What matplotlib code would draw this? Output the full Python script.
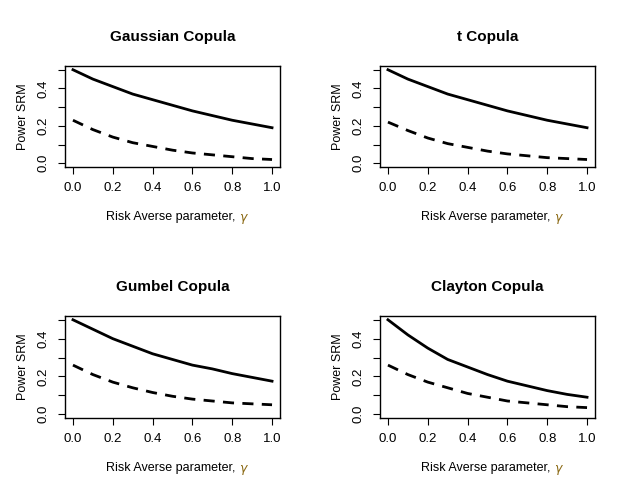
import numpy as np
import matplotlib
matplotlib.use("Agg")
import matplotlib.pyplot as plt

plt.rcParams['font.family'] = ['Liberation Sans', 'DejaVu Sans']

gamma = [0.0, 0.1, 0.2, 0.3, 0.4, 0.5, 0.6, 0.7, 0.8, 0.9, 1.0]
titles = ["Gaussian Copula", "t Copula", "Gumbel Copula", "Clayton Copula"]
solid = [
    [0.50, 0.45, 0.41, 0.37, 0.34, 0.31, 0.28, 0.255, 0.23, 0.21, 0.19],
    [0.50, 0.45, 0.41, 0.37, 0.34, 0.31, 0.28, 0.255, 0.23, 0.21, 0.19],
    [0.50, 0.45, 0.40, 0.36, 0.32, 0.29, 0.26, 0.24, 0.215, 0.195, 0.175],
    [0.50, 0.42, 0.35, 0.29, 0.25, 0.21, 0.175, 0.15, 0.125, 0.105, 0.09],
]
dashed = [
    [0.23, 0.18, 0.14, 0.11, 0.09, 0.07, 0.055, 0.045, 0.035, 0.025, 0.02],
    [0.22, 0.175, 0.135, 0.105, 0.085, 0.065, 0.05, 0.04, 0.03, 0.025, 0.02],
    [0.26, 0.21, 0.17, 0.14, 0.115, 0.095, 0.08, 0.07, 0.06, 0.055, 0.05],
    [0.26, 0.21, 0.17, 0.14, 0.11, 0.09, 0.07, 0.06, 0.05, 0.04, 0.035],
]

W, H = 628, 500
fig = plt.figure(figsize=(W / 100, H / 100), dpi=100)
# axes boxes in pixels (left, top, right, bottom)
boxes = [(65, 66, 280, 167), (380, 66, 595, 167), (65, 316, 280, 418), (380, 316, 595, 418)]
labels = []
for i, (l, t, r, b) in enumerate(boxes):
    ax = fig.add_axes([l / W, 1 - b / H, (r - l) / W, (b - t) / H])
    ax.plot(gamma, solid[i], color="black", lw=2)
    ax.plot(gamma, dashed[i], color="black", lw=2, ls=(0, (4, 3)))
    ax.set_xlim(-0.04, 1.04)
    ax.set_ylim(-0.02, 0.52)
    ax.set_xticks([0, 0.2, 0.4, 0.6, 0.8, 1.0])
    ax.set_xticklabels(["0.0", "0.2", "0.4", "0.6", "0.8", "1.0"])
    ax.set_yticks([0, 0.1, 0.2, 0.3, 0.4, 0.5])
    ax.set_yticklabels(["0.0", "", "0.2", "", "0.4", ""], rotation=90, va="center")
    ax.tick_params(labelsize=9.5, length=5, pad=6)
    for s in ax.spines.values():
        s.set_linewidth(1)
    ax.set_title(titles[i], fontsize=11, fontweight="bold", pad=18)
    ax.set_ylabel("Power SRM", fontsize=9, labelpad=6)
    lab = ax.set_xlabel("Risk Averse parameter, ", fontsize=9, labelpad=12)
    labels.append((ax, lab))

fig.canvas.draw()
rend = fig.canvas.get_renderer()
for ax, lab in labels:
    bb = lab.get_window_extent(rend)
    fig.text(bb.x1 / W, (bb.y0 - 3) / H, r"$\gamma$", color="#8B6914",
             fontsize=9, ha="left", va="bottom")

fig.savefig("out.png", dpi=100)
